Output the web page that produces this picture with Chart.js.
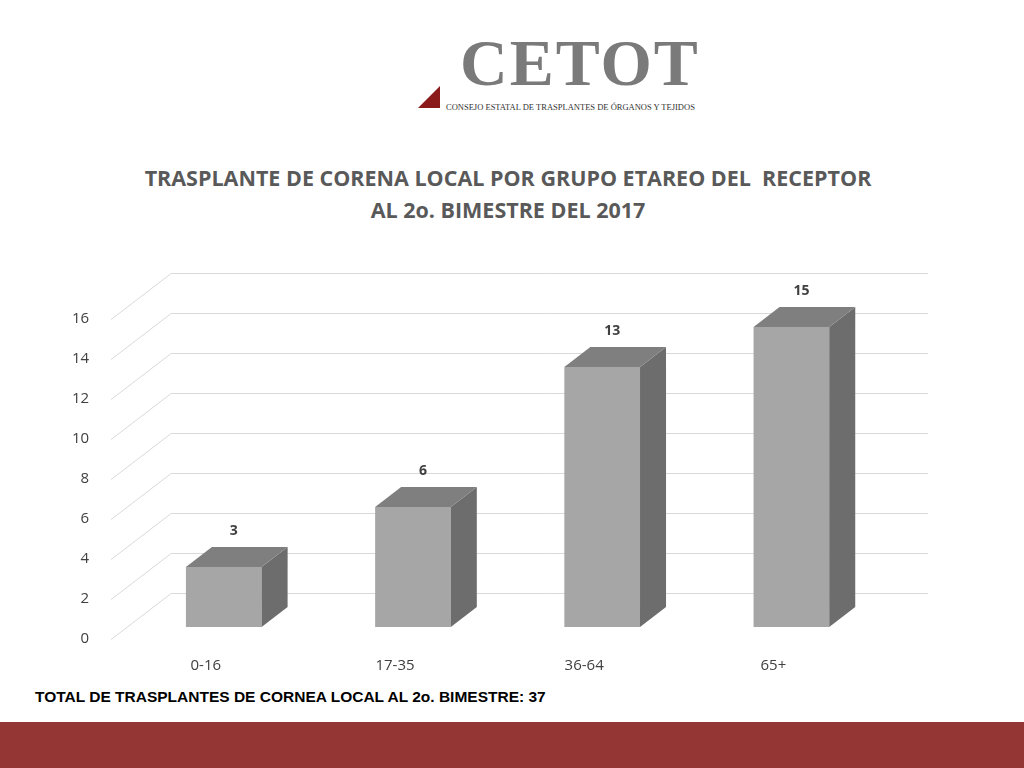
<!DOCTYPE html>
<html>
<head>
<meta charset="utf-8">
<script src="https://cdn.jsdelivr.net/npm/chart.js@4/dist/chart.umd.min.js"></script>
<style>
  body { margin: 0; width: 1024px; height: 768px; position: relative; background: #fff; overflow: hidden; }
  #logo { position: absolute; left: 460px; top: 30px; font-family: "Liberation Serif", serif; color: #7a7a7a; }
  #logo .big { font-size: 66px; font-weight: bold; letter-spacing: 2px; line-height: 66px; }
  #logo .small { font-size: 8.5px; color: #333; margin-left: -14px; margin-top: 6px; }
  #tri { position: absolute; left: 418px; top: 86px; width: 0; height: 0; border-left: 22px solid transparent; border-bottom: 22px solid #8b1a1a; }
  #title { position: absolute; left: 0; width: 1016px; top: 162px; text-align: center; font-family: "Open Sans", sans-serif; font-weight: bold; font-size: 21.5px; line-height: 32px; color: #595959; }
  #chartBox { position: absolute; left: 58px; top: 255px; width: 902px; height: 430px; }
  #total { position: absolute; left: 35px; top: 688px; font-family: "Liberation Sans", Arial, sans-serif; font-weight: bold; font-size: 15.5px; color: #000; }
  #band { position: absolute; left: 0; top: 722px; width: 1024px; height: 46px; background: #943634; }
</style>
</head>
<body>
<div id="tri"></div>
<div id="logo"><div class="big">CETOT</div><div class="small">CONSEJO ESTATAL DE TRASPLANTES DE ÓRGANOS Y TEJIDOS</div></div>
<div id="title">TRASPLANTE DE CORENA LOCAL POR GRUPO ETAREO DEL &nbsp;RECEPTOR<br>AL 2o. BIMESTRE DEL 2017</div>
<div id="chartBox"><canvas id="chart"></canvas></div>
<div id="total">TOTAL DE TRASPLANTES DE CORNEA LOCAL AL 2o. BIMESTRE: 37</div>
<div id="band"></div>
<script>
const categories = ['0-16', '17-35', '36-64', '65+'];
const values = [3, 6, 13, 15];
const yTicks = [0, 2, 4, 6, 8, 10, 12, 14, 16];

// 3D geometry (pixels)
const WALL_DX = 60, WALL_DY = 46;
const BAR_FX = 18, BAR_FY = 12;
const BAR_DX = 26, BAR_DY = 20;

const bars3d = {
  id: 'bars3d',
  beforeDatasetsDraw(chart) {
    const ctx = chart.ctx;
    const area = chart.chartArea;
    const y = chart.scales.y;
    ctx.save();
    ctx.strokeStyle = '#d9d9d9';
    ctx.lineWidth = 1;
    yTicks.forEach(v => {
      const py = Math.round(y.getPixelForValue(v)) + 0.5;
      ctx.beginPath();
      ctx.moveTo(area.left, py);
      ctx.lineTo(area.left + WALL_DX, py - WALL_DY);
      ctx.lineTo(area.right + WALL_DX, py - WALL_DY);
      ctx.stroke();
    });
    ctx.restore();
  },
  afterDatasetsDraw(chart) {
    const ctx = chart.ctx;
    const meta = chart.getDatasetMeta(0);
    ctx.save();
    meta.data.forEach((bar, i) => {
      const l = bar.x - bar.width / 2 + BAR_FX;
      const r = bar.x + bar.width / 2 + BAR_FX;
      const t = bar.y - BAR_FY;
      const b = bar.base - BAR_FY;
      ctx.fillStyle = '#a6a6a6';
      ctx.fillRect(l, t, r - l, b - t);
      ctx.fillStyle = '#6d6d6d';
      ctx.beginPath();
      ctx.moveTo(r, t); ctx.lineTo(r + BAR_DX, t - BAR_DY);
      ctx.lineTo(r + BAR_DX, b - BAR_DY); ctx.lineTo(r, b);
      ctx.closePath(); ctx.fill();
      ctx.fillStyle = '#7f7f7f';
      ctx.beginPath();
      ctx.moveTo(l, t); ctx.lineTo(l + BAR_DX, t - BAR_DY);
      ctx.lineTo(r + BAR_DX, t - BAR_DY); ctx.lineTo(r, t);
      ctx.closePath(); ctx.fill();
      ctx.fillStyle = '#404040';
      ctx.font = 'bold 14px "Open Sans", sans-serif';
      ctx.textAlign = 'center';
      ctx.fillText(String(values[i]), (l + r) / 2 + 10, t - BAR_DY - 12);
    });
    ctx.restore();
  }
};

new Chart(document.getElementById('chart'), {
  type: 'bar',
  data: {
    labels: categories,
    datasets: [{ data: values, backgroundColor: 'rgba(0,0,0,0)', barPercentage: 0.8, categoryPercentage: 0.5 }]
  },
  options: {
    responsive: true,
    maintainAspectRatio: false,
    animation: false,
    layout: { padding: { top: 64, right: 92, left: 0, bottom: 0 } },
    plugins: { legend: { display: false }, tooltip: { enabled: false } },
    scales: {
      y: {
        min: 0, max: 16,
        grid: { display: false }, border: { display: false },
        afterBuildTicks: s => { s.ticks = yTicks.map(v => ({ value: v })); },
        ticks: { color: '#404040', font: { family: 'Open Sans', size: 15 }, padding: 14 }
      },
      x: {
        grid: { display: false }, border: { display: false },
        ticks: { color: '#404040', font: { family: 'Open Sans', size: 15 }, padding: 10 }
      }
    }
  },
  plugins: [bars3d]
});
</script>
</body>
</html>
